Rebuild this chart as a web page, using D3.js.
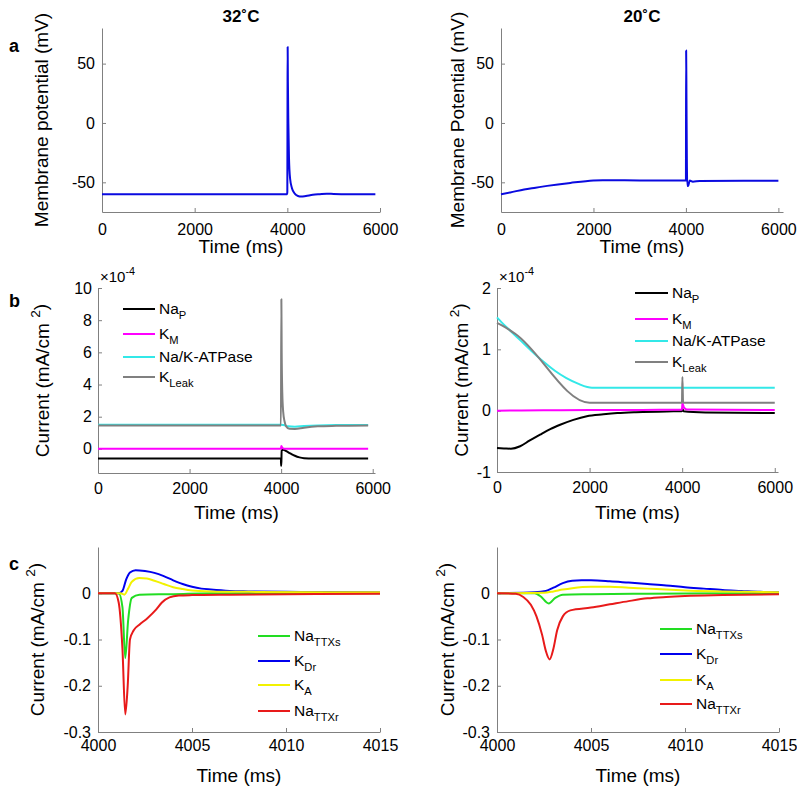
<!DOCTYPE html>
<html>
<head>
<meta charset="utf-8">
<script src="https://d3js.org/d3.v7.min.js"></script>
<title>Membrane potential and currents</title>
<style>
  body { margin: 0; background: #fff; }
  svg { font-family: "Liberation Sans", Arial, Helvetica, sans-serif; }
</style>
</head>
<body>
<script>
// ---- data: [time (ms), value] ----
const vm32 = [[0,-60],[3995,-60],[4000,-58],[4004,20],[4007,64],[4012,35],[4022,0],[4036,-30],[4060,-47],[4100,-55],[4160,-59.5],[4230,-61.5],[4300,-62],[4400,-61.5],[4550,-60.5],[4700,-60],[4850,-59.6],[5000,-59.8],[5300,-60],[5900,-60]]
const vm20 = [[0,-60],[200,-58.5],[500,-56],[750,-54.5],[1000,-53],[1500,-50.5],[2000,-48.5],[2200,-48.2],[3000,-48.4],[3995,-48.5],[4000,-48],[4005,61],[4012,20],[4020,-30],[4030,-53],[4050,-53],[4080,-48.5],[4150,-49.5],[4300,-48.8],[6000,-48.6]]

// panel b, units of 1e-4 mA/cm^2
const naP32 = [[0,-0.6],[3995,-0.6],[3999,-1.05],[4005,-1.05],[4010,-0.1],[4050,-0.05],[4100,-0.12],[4200,-0.28],[4300,-0.43],[4400,-0.53],[4500,-0.58],[4700,-0.6],[5900,-0.6]]
const kM32 = [[0,0],[3995,0],[4005,0.18],[4030,0.05],[4100,0],[5900,0]]
const atp32 = [[0,1.5],[3995,1.5],[4050,1.48],[4150,1.4],[4300,1.38],[4500,1.42],[4800,1.46],[5200,1.48],[5900,1.48]]
const kLeak32 = [[0,1.45],[3995,1.45],[4005,9.3],[4012,6],[4025,3.5],[4045,2.3],[4075,1.7],[4110,1.4],[4180,1.25],[4300,1.24],[4500,1.32],[4800,1.4],[5200,1.43],[5900,1.45]]

const naP20 = [[0,-0.61],[150,-0.615],[300,-0.62],[500,-0.58],[700,-0.49],[930,-0.39],[1150,-0.3],[1364,-0.23],[1650,-0.15],[1940,-0.09],[2300,-0.06],[2600,-0.04],[3000,-0.025],[3670,-0.012],[3990,-0.01],[4005,0.03],[4030,-0.01],[4500,-0.03],[6000,-0.04]]
const kM20 = [[0,0],[1000,0.005],[2000,0.01],[3995,0.015],[4005,0.12],[4040,0.05],[4100,0.02],[6000,0.01]]
const atp20 = [[0,1.52],[100,1.44],[250,1.33],[500,1.15],[750,0.97],[1000,0.8],[1250,0.65],[1500,0.53],[1750,0.44],[1950,0.385],[2050,0.375],[6000,0.375]]
const kLeak20 = [[0,1.43],[200,1.35],[400,1.25],[2000,0.13],[3995,0.13],[4005,0.55],[4020,0.13],[6000,0.13]]

// panel c, mA/cm^2
const naS32 = [[4000,0],[4001.1,0],[4001.3,-0.03],[4001.45,-0.14],[4001.6,-0.06],[4001.8,-0.01],[4002.2,-0.003],[4004,-0.002],[4006,0],[4015,0]]
const kDr32 = [[4000,0],[4001.1,0],[4001.3,0.005],[4001.5,0.03],[4001.7,0.045],[4002,0.05],[4002.5,0.048],[4003,0.044],[4003.5,0.037],[4004,0.028],[4004.5,0.02],[4005,0.014],[4005.5,0.01],[4006,0.008],[4007,0.005],[4008,0.004],[4010,0.003],[4012,0.0025],[4015,0.002]]
const kA32 = [[4000,0],[4001.2,0],[4001.4,-0.003],[4001.6,0.01],[4001.8,0.025],[4002.2,0.033],[4002.6,0.032],[4003,0.027],[4003.5,0.02],[4004,0.013],[4004.5,0.009],[4005,0.006],[4006,0.004],[4008,0.003],[4015,0.002]]
const naR32 = [[4000,0],[4000.9,0],[4001.1,-0.02],[4001.3,-0.12],[4001.45,-0.262],[4001.58,-0.2],[4001.7,-0.1],[4001.9,-0.08],[4002.2,-0.068],[4002.6,-0.055],[4003.1,-0.035],[4003.4,-0.02],[4003.8,-0.009],[4004.3,-0.005],[4005,-0.004],[4007,-0.003],[4010,-0.002],[4015,-0.001]]

const naS20 = [[4000,0],[4002,0],[4002.3,-0.006],[4002.75,-0.022],[4003.1,-0.01],[4003.5,-0.003],[4005,-0.002],[4008,-0.001],[4015,0]]
const kDr20 = [[4000,0],[4002,0.002],[4002.6,0.005],[4003,0.012],[4003.5,0.022],[4004,0.027],[4004.5,0.028],[4005,0.028],[4006,0.026],[4007,0.023],[4008,0.02],[4009,0.017],[4010,0.013],[4011,0.01],[4012,0.007],[4013,0.005],[4014,0.003],[4015,0.002]]
const kA20 = [[4000,0],[4002.5,0.001],[4003,0.004],[4003.5,0.008],[4004,0.011],[4005,0.014],[4006,0.014],[4007,0.012],[4008,0.01],[4009,0.008],[4010,0.006],[4012,0.004],[4015,0.002]]
const naR20 = [[4000,0],[4001,-0.001],[4001.4,-0.008],[4001.8,-0.025],[4002.1,-0.05],[4002.4,-0.09],[4002.6,-0.125],[4002.8,-0.143],[4003,-0.12],[4003.2,-0.08],[4003.5,-0.05],[4003.9,-0.037],[4005,-0.031],[4006,-0.024],[4007,-0.017],[4008,-0.011],[4009,-0.008],[4010,-0.006],[4012,-0.004],[4015,-0.002]]

// tick values
const timeTicks = [0, 2000, 4000, 6000]
const zoomTicks = [4000, 4005, 4010, 4015]
const vmTicks = [-50, 0, 50]
const bTicks32 = [0, 2, 4, 6, 8, 10]
const bTicks20 = [-1, 0, 1, 2]
const cTicks = [-0.3, -0.2, -0.1, 0]

const colors = {
  naP: '#000000', kM: '#ff00ff', atp: '#33e8e8', kLeak: '#808080',
  naS: '#22dd22', kDr: '#0000ee', kA: '#f2f200', naR: '#e81a1a', vm: '#0a0ae0'
}

const width = 797
const height = 789
const svg = d3.select('body').append('svg')
    .attr('width', width)
    .attr('height', height)

const axisColor = '#808080'

function label(g, parts, x, y, size, opts = {}) {
  const t = g.append('text')
      .attr('x', x).attr('y', y)
      .attr('font-size', size)
      .attr('text-anchor', opts.anchor || 'start')
      .attr('fill', '#000')
  if (opts.rotate) t.attr('transform', `rotate(-90,${x},${y})`)
  if (opts.bold) t.attr('font-weight', 'bold')
  parts.forEach(p => {
    const s = t.append('tspan').text(p.text)
    if (p.sub) s.attr('font-size', size * 0.72).attr('dy', size * 0.3)
    if (p.sup) s.attr('font-size', size * 0.72).attr('dy', -size * 0.45)
    if (p.reset) s.attr('dy', p.reset)
  })
  return t
}

function panel(p) {
  const x = d3.scaleLinear().domain(p.xDomain).range(p.xRange)
  const y = d3.scaleLinear().domain(p.yDomain).range(p.yRange)
  const g = svg.append('g')

  const xAxis = g.append('g')
      .attr('transform', `translate(0,${p.yRange[0]})`)
      .call(d3.axisBottom(x).tickValues(p.xTicks).tickSizeInner(-4).tickSizeOuter(0)
          .tickPadding(p.xPad).tickFormat(d => String(d)))
  const yAxis = g.append('g')
      .attr('transform', `translate(${p.xRange[0]},0)`)
      .call(d3.axisLeft(y).tickValues(p.yTicks).tickSizeInner(-4).tickSizeOuter(0)
          .tickPadding(p.yPad).tickFormat(d => String(d)))
  ;[xAxis, yAxis].forEach(a => {
    a.select('.domain').attr('stroke', axisColor)
    a.selectAll('.tick line').attr('stroke', axisColor)
    a.selectAll('.tick text').attr('font-size', 16).attr('fill', '#000')
        .attr('font-family', '"Liberation Sans", Arial, sans-serif')
  })

  const line = d3.line()
      .x(d => x(d[0]))
      .y(d => y(d[1]))
      .curve(d3.curveMonotoneX)

  p.series.forEach(s => {
    g.append('path')
        .datum(s.data)
        .attr('fill', 'none')
        .attr('stroke', s.color)
        .attr('stroke-width', 2)
        .attr('stroke-linejoin', 'round')
        .attr('d', line)
  })

  const cx = (p.xRange[0] + p.xRange[1]) / 2
  label(g, [{ text: 'Time (ms)' }], cx, p.xLabelY, 19, { anchor: 'middle' })
  label(g, p.yLabel, p.yLabelX, (p.yRange[0] + p.yRange[1]) / 2, 19, { anchor: 'middle', rotate: true })

  if (p.exponent) {
    label(g, [{ text: '\u00d710' }, { text: '-4', sup: true }], p.xRange[0] + 2, p.yRange[1] - 6, 15)
  }

  if (p.legend) {
    const L = p.legend
    p.series.forEach((s, i) => {
      const ly = L.rows[i]
      g.append('line')
          .attr('x1', L.x1).attr('x2', L.x2)
          .attr('y1', ly).attr('y2', ly)
          .attr('stroke', s.color).attr('stroke-width', 2)
      label(g, s.name, L.x2 + 4, ly + 5, 15.5)
    })
  }
}

const nameNaP = [{ text: 'Na' }, { text: 'P', sub: true }]
const nameKM = [{ text: 'K' }, { text: 'M', sub: true }]
const nameAtp = [{ text: 'Na/K-ATPase' }]
const nameKLeak = [{ text: 'K' }, { text: 'Leak', sub: true }]
const nameNaS = [{ text: 'Na' }, { text: 'TTXs', sub: true }]
const nameKDr = [{ text: 'K' }, { text: 'Dr', sub: true }]
const nameKA = [{ text: 'K' }, { text: 'A', sub: true }]
const nameNaR = [{ text: 'Na' }, { text: 'TTXr', sub: true }]
const currentLabel = [{ text: 'Current (mA/cm ' }, { text: '2', sup: true }, { text: ')', reset: 7 }]

// panel a
panel({
  xDomain: [0, 6000], xRange: [102, 380], yDomain: [-75, 80], yRange: [212, 28],
  xTicks: timeTicks, yTicks: vmTicks, xPad: 12, yPad: 7, xLabelY: 253,
  yLabel: [{ text: 'Membrane potential (mV)' }], yLabelX: 48,
  series: [{ data: vm32, color: colors.vm }]
})
panel({
  xDomain: [0, 6100], xRange: [501, 783], yDomain: [-75, 80], yRange: [212, 28],
  xTicks: timeTicks, yTicks: vmTicks, xPad: 12, yPad: 7, xLabelY: 253,
  yLabel: [{ text: 'Membrane Potential (mV)' }], yLabelX: 464,
  series: [{ data: vm20, color: colors.vm }]
})

// panel b
panel({
  xDomain: [0, 6050], xRange: [98, 375], yDomain: [-1.5, 10], yRange: [473, 288],
  xTicks: timeTicks, yTicks: bTicks32, xPad: 10, yPad: 6, xLabelY: 519,
  yLabel: currentLabel, yLabelX: 49, exponent: true,
  series: [
    { data: naP32, color: colors.naP, name: nameNaP },
    { data: kM32, color: colors.kM, name: nameKM },
    { data: atp32, color: colors.atp, name: nameAtp },
    { data: kLeak32, color: colors.kLeak, name: nameKLeak }
  ],
  legend: { x1: 123, x2: 155, rows: [309, 334, 357, 377] }
})
panel({
  xDomain: [0, 6070], xRange: [497, 778], yDomain: [-1, 2], yRange: [472, 288],
  xTicks: timeTicks, yTicks: bTicks20, xPad: 10, yPad: 6, xLabelY: 519,
  yLabel: currentLabel, yLabelX: 468, exponent: true,
  series: [
    { data: naP20, color: colors.naP, name: nameNaP },
    { data: kM20, color: colors.kM, name: nameKM },
    { data: atp20, color: colors.atp, name: nameAtp },
    { data: kLeak20, color: colors.kLeak, name: nameKLeak }
  ],
  legend: { x1: 635, x2: 668, rows: [293, 319, 341, 362] }
})

// panel c
panel({
  xDomain: [4000, 4015], xRange: [98, 380], yDomain: [-0.3, 0.1], yRange: [732, 547],
  xTicks: zoomTicks, yTicks: cTicks, xPad: 8, yPad: 7, xLabelY: 782,
  yLabel: currentLabel, yLabelX: 44,
  series: [
    { data: naS32, color: colors.naS, name: nameNaS },
    { data: kDr32, color: colors.kDr, name: nameKDr },
    { data: kA32, color: colors.kA, name: nameKA },
    { data: naR32, color: colors.naR, name: nameNaR }
  ],
  legend: { x1: 258, x2: 290, rows: [636, 661, 685, 711] }
})
panel({
  xDomain: [4000, 4015], xRange: [497, 779], yDomain: [-0.3, 0.1], yRange: [732, 547],
  xTicks: zoomTicks, yTicks: cTicks, xPad: 8, yPad: 7, xLabelY: 782,
  yLabel: currentLabel, yLabelX: 454,
  series: [
    { data: naS20, color: colors.naS, name: nameNaS },
    { data: kDr20, color: colors.kDr, name: nameKDr },
    { data: kA20, color: colors.kA, name: nameKA },
    { data: naR20, color: colors.naR, name: nameNaR }
  ],
  legend: { x1: 660, x2: 692, rows: [629, 654, 680, 704] }
})

// titles and panel letters
label(svg, [{ text: '32' }, { text: '\u02da' }, { text: 'C' }], 241, 22, 17, { anchor: 'middle', bold: true })
label(svg, [{ text: '20' }, { text: '\u02da' }, { text: 'C' }], 642, 22, 17, { anchor: 'middle', bold: true })
label(svg, [{ text: 'a' }], 9, 52, 18, { bold: true })
label(svg, [{ text: 'b' }], 9, 307, 18, { bold: true })
label(svg, [{ text: 'c' }], 9, 570, 18, { bold: true })
</script>
</body>
</html>
